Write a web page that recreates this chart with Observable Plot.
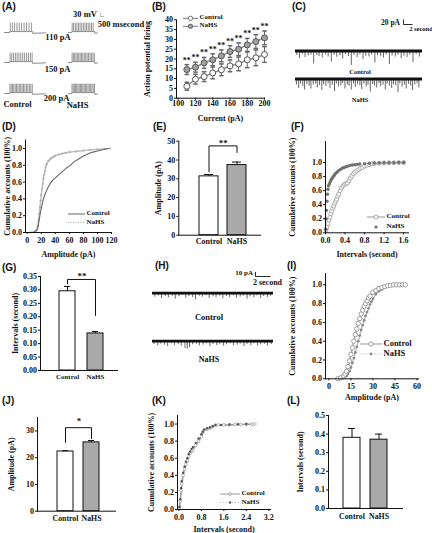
<!DOCTYPE html>
<html><head><meta charset="utf-8">
<script src="https://cdn.jsdelivr.net/npm/d3@7"></script>
<script src="https://cdn.jsdelivr.net/npm/@observablehq/plot@0.6"></script>
<style>
html,body{margin:0;padding:0;background:#fff;}
#root{position:relative;width:432px;height:533px;overflow:hidden;font-family:"Liberation Serif",serif;font-weight:bold;color:#111;}
.lbl{position:absolute;white-space:nowrap;line-height:1;}
svg{overflow:visible;}
</style></head><body><div id="root"></div><script>
// ================= DATA =================
const groups = ["Control", "NaHS"];
// (A) spike times (ms) during a 500 ms current step
const stepCurrents = [110, 150, 200];
const spikesControl110 = [15, 60, 110, 160, 210, 262, 315, 368, 422, 478];
const spikesNaHS110 = [10, 42, 78, 112, 148, 182, 218, 252, 288, 322, 358, 394, 430, 466];
const spikesControl150 = [12, 48, 88, 126, 165, 205, 245, 286, 327, 368, 410, 452, 490];
const spikesNaHS150 = [8, 35, 64, 93, 122, 152, 182, 212, 242, 273, 304, 335, 366, 398, 430, 462, 492];
const spikesControl200 = [8, 36, 64, 93, 122, 151, 181, 211, 241, 272, 303, 334, 366, 398, 430, 463, 494];
const spikesNaHS200 = [6, 31, 57, 83, 109, 135, 162, 189, 216, 243, 270, 298, 326, 354, 382, 410, 439, 468, 496];
const waveControlT = [-110, 0, 0, 500, 500, 780];
const waveNaHST = [-70, 0, 0, 500, 500, 560];
const waveV = [-65, -65, -56, -56, -73, -69];
const spikePeak = 28;

// (B) firing vs current
const currents = [110, 120, 130, 140, 150, 160, 170, 180, 190, 200];
const firingControl = [6.1, 9.7, 11.0, 12.9, 14.5, 16.5, 17.5, 19.6, 20.6, 22.3];
const firingControlErr = [2.0, 2.5, 2.5, 3.0, 3.0, 3.0, 3.5, 4.0, 4.0, 4.0];
const firingNaHS = [14.6, 15.8, 18.0, 19.6, 21.6, 23.8, 25.0, 27.2, 28.9, 30.8];
const firingNaHSErr = [2.5, 2.5, 2.8, 3.0, 3.0, 3.0, 3.2, 3.3, 3.5, 3.5];
const firingXTicks = [100, 120, 140, 160, 180, 200];
const firingYTicks = [0, 5, 10, 15, 20, 25, 30, 35, 40];

// (C) spontaneous events [time s, amplitude pA]
const cControlEvents = [[0.3,18],[0.9,30],[1.5,14],[2.1,26],[2.8,20],[3.4,16],[4.0,52],[4.7,18],[5.2,22],[5.9,28],[6.6,15],[7.2,24],[7.9,44],[8.5,17],[9.1,25],[9.8,20],[10.4,32],[11.0,14],[11.7,22],[12.3,58],[12.9,18],[13.6,26],[14.2,15],[14.9,34],[15.5,21],[16.2,24],[16.8,16],[17.5,48],[18.1,19],[18.8,23],[19.4,28],[20.0,15],[20.7,54],[21.3,20],[22.0,24],[22.6,17],[23.3,30],[23.9,21],[24.6,26],[25.2,16],[25.9,46],[26.6,14],[27.3,24]];
const cNaHSEvents = [[0.2,24],[0.7,38],[1.1,20],[1.6,30],[2.0,44],[2.5,22],[3.0,28],[3.4,40],[3.9,24],[4.4,20],[4.8,36],[5.3,26],[5.8,46],[6.2,23],[6.7,30],[7.2,19],[7.6,38],[8.1,25],[8.6,50],[9.0,21],[9.5,32],[10.0,27],[10.4,18],[10.9,40],[11.4,24],[11.8,29],[12.3,44],[12.8,20],[13.2,34],[13.7,23],[14.2,28],[14.6,42],[15.1,21],[15.6,32],[16.0,25],[16.5,52],[17.0,22],[17.4,28],[17.9,36],[18.4,19],[18.8,31],[19.3,24],[19.8,44],[20.2,21],[20.7,29],[21.2,38],[21.6,23],[22.1,27],[22.6,54],[23.0,20],[23.5,33],[24.0,25],[24.4,40],[24.9,22],[25.4,28],[25.8,46],[26.3,24],[26.8,19],[27.2,36]];

// (D) cumulative amplitude
const dControlAmp = [8, 12, 15, 17, 19, 21, 23, 25, 28, 31, 34, 37, 40, 44, 48, 52, 56, 60, 64, 68, 72, 76, 80, 85, 90, 95, 100, 105, 110, 115];
const dControlCum = [0.0, 0.01, 0.05, 0.15, 0.25, 0.33, 0.40, 0.45, 0.51, 0.56, 0.60, 0.63, 0.65, 0.68, 0.71, 0.74, 0.77, 0.79, 0.82, 0.85, 0.87, 0.89, 0.91, 0.93, 0.95, 0.96, 0.97, 0.98, 0.99, 1.0];
const dNaHSAmp = [5, 10, 13, 15, 16, 17, 18, 19, 20, 21, 22, 23, 24, 25, 26, 27, 28, 30, 32, 34, 36, 38, 40, 45, 50, 55, 60, 70, 80, 90, 100, 110, 118];
const dNaHSCum = [0.0, 0.01, 0.03, 0.08, 0.15, 0.22, 0.3, 0.38, 0.45, 0.52, 0.58, 0.64, 0.69, 0.73, 0.77, 0.8, 0.82, 0.85, 0.87, 0.885, 0.895, 0.905, 0.915, 0.93, 0.94, 0.95, 0.957, 0.965, 0.975, 0.985, 0.99, 0.995, 1.0];
const dXTicks = [0, 20, 40, 60, 80, 100, 120];
const cdfYTicks = [0, 0.2, 0.4, 0.6, 0.8, 1.0];

// (E) amplitude bars
const eMean = [31.3, 37.3];
const eErr = [1.0, 1.6];
const eYTicks = [0, 10, 20, 30, 40, 50];
const eBracket = [33.7, 47.5, 47.5, 44.0];
const eSig = "**";
const eSigY = 48.8;

// (F) cumulative intervals
const fControlInt = [0.01, 0.03, 0.05, 0.07, 0.09, 0.11, 0.13, 0.15, 0.17, 0.19, 0.21, 0.23, 0.25, 0.27, 0.3, 0.33, 0.36, 0.39, 0.42, 0.45, 0.48, 0.51, 0.54, 0.57, 0.6, 0.64, 0.68, 0.72, 0.76, 0.8, 0.85, 0.9, 0.95, 1.0, 1.1, 1.2, 1.3, 1.4, 1.5, 1.6];
const fControlCum = [0.04, 0.08, 0.13, 0.18, 0.22, 0.27, 0.31, 0.35, 0.38, 0.42, 0.45, 0.48, 0.52, 0.55, 0.6, 0.64, 0.67, 0.69, 0.7, 0.71, 0.74, 0.78, 0.81, 0.84, 0.86, 0.88, 0.9, 0.92, 0.93, 0.95, 0.96, 0.97, 0.98, 0.985, 0.99, 0.995, 0.997, 0.998, 0.999, 1.0];
const fNaHSInt = [0.005, 0.01, 0.02, 0.03, 0.04, 0.05, 0.06, 0.08, 0.1, 0.12, 0.14, 0.16, 0.18, 0.2, 0.23, 0.26, 0.3, 0.34, 0.38, 0.42, 0.46, 0.5, 0.55, 0.6, 0.65, 0.7, 0.8, 0.9, 1.0, 1.1, 1.2, 1.3, 1.4, 1.5, 1.6];
const fNaHSCum = [0.05, 0.2, 0.32, 0.45, 0.55, 0.62, 0.67, 0.7, 0.73, 0.76, 0.78, 0.8, 0.82, 0.84, 0.86, 0.88, 0.9, 0.92, 0.93, 0.94, 0.95, 0.96, 0.965, 0.97, 0.975, 0.98, 0.985, 0.99, 0.993, 0.995, 0.997, 0.998, 0.999, 1.0, 1.0];
const fXTicks = [0, 0.4, 0.8, 1.2, 1.6];

// (G) interval bars
const gMean = [0.295, 0.138];
const gErr = [0.018, 0.007];
const gYTicks = [0, 0.05, 0.10, 0.15, 0.20, 0.25, 0.30, 0.35];
const gBracket = [0.323, 0.339, 0.339, 0.205];
const gSig = "**";
const gSigY = 0.350;

// (H) miniature events [time s, amplitude pA]
const hControlEvents = [[0.3,12],[0.8,8],[1.2,16],[1.7,10],[2.1,14],[2.6,9],[3.0,18],[3.5,11],[3.9,7],[4.4,15],[4.8,10],[5.3,13],[5.7,20],[6.2,9],[6.6,12],[7.1,8],[7.5,16],[8.0,11],[8.4,14],[8.9,9],[9.3,17],[9.8,10],[10.2,13],[10.7,8],[11.1,15],[11.6,12],[12.0,9],[12.5,18],[12.9,11],[13.4,14],[13.8,8],[14.3,16],[14.7,10],[15.2,13],[15.6,9]];
const hNaHSEvents = [[0.2,10],[0.7,14],[1.1,9],[1.6,12],[2.0,16],[2.5,8],[2.9,13],[3.4,10],[3.8,15],[4.3,22],[4.6,24],[4.9,20],[5.3,11],[5.8,9],[6.2,14],[6.7,12],[7.1,8],[7.6,17],[8.0,10],[8.5,13],[8.9,9],[9.4,15],[9.8,11],[10.3,8],[10.7,14],[11.2,12],[11.6,9],[12.1,16],[12.5,10],[13.0,13],[13.4,8],[13.9,15],[14.3,11],[14.8,9],[15.2,14],[15.7,10]];

// (I) cumulative amplitude
const iControlAmp = [6, 8, 10, 11, 12, 13, 14, 15, 16, 17, 18, 19, 20, 21, 22, 23, 24, 25, 26, 27, 28, 30, 32, 34, 36, 38, 40, 42, 44, 46, 48, 50, 52];
const iControlCum = [0.0, 0.01, 0.03, 0.05, 0.08, 0.13, 0.19, 0.26, 0.33, 0.4, 0.47, 0.53, 0.59, 0.64, 0.69, 0.73, 0.77, 0.8, 0.83, 0.86, 0.88, 0.92, 0.94, 0.96, 0.97, 0.98, 0.99, 0.995, 1.0, 1.0, 1.0, 1.0, 1.0];
const iNaHSAmp = [8, 10, 12, 13, 14, 15, 16, 17, 18, 19, 20, 21, 22, 23, 24, 25, 26, 27, 28, 29, 30, 32, 34, 36, 38, 40, 42, 44, 46, 48, 50, 52];
const iNaHSCum = [0.0, 0.01, 0.03, 0.05, 0.08, 0.12, 0.17, 0.22, 0.28, 0.34, 0.4, 0.46, 0.52, 0.57, 0.62, 0.67, 0.71, 0.75, 0.79, 0.82, 0.85, 0.9, 0.93, 0.95, 0.97, 0.98, 0.99, 0.995, 1.0, 1.0, 1.0, 1.0];
const iXTicks = [0, 15, 30, 45, 60];

// (J) amplitude bars
const jMean = [22.3, 25.7];
const jErr = [0.3, 0.7];
const jYTicks = [0, 10, 20, 30];
const jBracket = [25.7, 31.2, 31.2, 27.1];
const jSig = "*";
const jSigY = 33.6;

// (K) cumulative intervals
const kControlInt = [0.02, 0.05, 0.08, 0.1, 0.15, 0.2, 0.25, 0.3, 0.35, 0.4, 0.45, 0.5, 0.6, 0.7, 0.8, 0.85, 0.9, 1.0, 1.1, 1.2, 1.3, 1.4, 1.6, 1.8, 2.0, 2.2, 2.4, 2.6, 2.7];
const kControlCum = [0.02, 0.1, 0.22, 0.3, 0.4, 0.47, 0.53, 0.57, 0.62, 0.66, 0.68, 0.7, 0.75, 0.8, 0.85, 0.9, 0.93, 0.94, 0.95, 0.97, 0.985, 0.99, 0.99, 0.99, 0.995, 0.995, 0.997, 0.998, 1.0];
const kNaHSInt = [0.02, 0.05, 0.08, 0.1, 0.15, 0.2, 0.25, 0.3, 0.35, 0.4, 0.45, 0.5, 0.6, 0.7, 0.8, 0.85, 0.9, 1.0, 1.1, 1.2, 1.3, 1.5, 1.8, 2.1, 2.4];
const kNaHSCum = [0.03, 0.12, 0.25, 0.33, 0.43, 0.5, 0.56, 0.6, 0.65, 0.68, 0.71, 0.73, 0.78, 0.83, 0.88, 0.91, 0.935, 0.95, 0.96, 0.975, 0.99, 0.99, 0.995, 0.998, 1.0];
const kXTicks = [0, 0.8, 1.6, 2.4, 3.2];

// (L) interval bars
const lMean = [0.38, 0.37];
const lErr = [0.05, 0.03];
const lYTicks = [0, 0.1, 0.2, 0.3, 0.4, 0.5];

// ================= HELPERS =================
const root = document.getElementById("root");
const SERIF = '"Liberation Serif", "Times New Roman", serif';
const SANS = '"Liberation Sans", Arial, sans-serif';
const BAR_FILL = ["#ffffff", "#a9a9a9"];

function put(node, x, y) {
  node.style.position = "absolute";
  node.style.left = x + "px";
  node.style.top = y + "px";
  node.style.maxWidth = "none";
  root.appendChild(node);
  return node;
}
function textAt(str, x, y, size, anchor = "left", family = SERIF) {
  const d = document.createElement("div");
  d.className = "lbl";
  d.textContent = str;
  d.style.fontSize = size + "px";
  d.style.fontFamily = family;
  d.style.left = x + "px";
  d.style.top = (y - size * 0.55) + "px";
  if (anchor === "center") d.style.transform = "translateX(-50%)";
  if (anchor === "right") d.style.transform = "translateX(-100%)";
  root.appendChild(d);
}
const NS = "http://www.w3.org/2000/svg";
const overlay = document.createElementNS(NS, "svg");
overlay.setAttribute("width", 432); overlay.setAttribute("height", 533);
overlay.style.position = "absolute"; overlay.style.left = "0"; overlay.style.top = "0";
function svgEl(tag, attrs) {
  const e = document.createElementNS(NS, tag);
  for (const k in attrs) e.setAttribute(k, attrs[k]);
  overlay.appendChild(e);
  return e;
}
function legend(x, y, gap, size, w, items) {
  items.forEach((it, i) => {
    const cy = y + i * gap;
    if (it.line) svgEl("line", {x1: x, x2: x + w, y1: cy, y2: cy, stroke: it.line.stroke, "stroke-width": 1, "stroke-dasharray": it.line.dash || "none"});
    if (it.marker) svgEl("circle", {cx: x + w / 2, cy, r: it.marker.r, fill: it.marker.fill, stroke: it.marker.stroke || "none", "stroke-width": 0.8});
    textAt(it.text, x + w + 1.5, cy, size);
  });
}
const capSymbol = {draw(ctx, size) { const h = Math.sqrt(size / Math.PI); ctx.moveTo(-h, 0); ctx.lineTo(h, 0); }};
const baseStyle = {fontFamily: SERIF, fontWeight: "bold", fontSize: "8.5px", background: "transparent", color: "#111", overflow: "visible"};
const fmt1 = d3.format(".1f"), fmt2 = d3.format(".2f");

function chart({box: [sx, sy, sw, sh], frame: [fx0, fy0, fx1, fy1], x, y, color, xAxis, yAxis, marks}) {
  const p = Plot.plot({
    width: sw, height: sh,
    marginLeft: fx0 - sx, marginRight: sx + sw - fx1, marginTop: fy0 - sy, marginBottom: sy + sh - fy1,
    x, y, color,
    style: baseStyle,
    marks: [
      ...marks,
      Plot.frame({anchor: "left", stroke: "#111"}),
      Plot.frame({anchor: "bottom", stroke: "#111"}),
      Plot.axisX({fontSize: 8, labelArrow: "none", labelAnchor: "center", ...xAxis}),
      Plot.axisY({fontSize: 8, labelArrow: "none", labelAnchor: "center", ...yAxis})
    ]
  });
  put(p, sx, sy);
}
const zip = (xs, ys, g) => xs.map((v, i) => ({x: v, y: ys[i], group: g}));

function barChart({box, frame, band, mean, err, yDomain, yTicks, yFormat, yLabel, labelOffset, tickPad, tickFont, bracket, sig, sigY}) {
  const data = groups.map((g, i) => ({cond: g, mean: mean[i], top: mean[i] + err[i]}));
  const marks = [
    Plot.barY(data, {x: "cond", y: "mean", fill: "cond", stroke: "#111", strokeWidth: 1}),
    Plot.ruleX(data, {x: "cond", y1: "mean", y2: "top", stroke: "#111"}),
    Plot.tickY(data, {x: "cond", y: "top", stroke: "#111", inset: 5})
  ];
  if (bracket) {
    const step = d3.scaleBand(groups, [frame[0], frame[2]]).paddingInner(band.paddingInner).paddingOuter(band.paddingOuter).align(band.align).step();
    const bdata = [groups[0], groups[0], groups[1], groups[1]].map((g, i) => ({cond: g, v: bracket[i]}));
    marks.push(Plot.line(bdata, {x: "cond", y: "v", stroke: "#111", strokeWidth: 1}));
    marks.push(Plot.text([sig], {x: () => groups[0], y: () => sigY, text: d => d, dx: step / 2, fontSize: 9}));
  }
  chart({box, frame,
    x: {type: "band", domain: groups, ...band},
    y: {domain: yDomain},
    color: {domain: groups, range: BAR_FILL},
    xAxis: {tickSize: 0, tickPadding: tickPad, fontSize: tickFont, label: null},
    yAxis: {ticks: yTicks, tickFormat: yFormat, tickSize: 2, tickPadding: 1.5, label: yLabel, labelOffset},
    marks});
}

function trace({left, top, width, height, xDomain, yDomain, marks}) {
  const p = Plot.plot({width, height, margin: 0, x: {domain: xDomain, axis: null}, y: {domain: yDomain, axis: null}, style: baseStyle, marks});
  put(p, left, top);
}

// ================= (A) =================
const waveControl = waveControlT.map((t, i) => ({t, v: waveV[i]}));
const waveNaHS = waveNaHST.map((t, i) => ({t, v: waveV[i]}));
const aRows = [
  {base: 32, c: spikesControl110, n: spikesNaHS110},
  {base: 62, c: spikesControl150, n: spikesNaHS150},
  {base: 93, c: spikesControl200, n: spikesNaHS200}
];
aRows.forEach(row => {
  [[row.c, waveControl, 4, 41], [row.n, waveNaHS, 68, 29]].forEach(([spk, wave, left, width]) => {
    trace({left, top: row.base - 10, width, height: 11,
      xDomain: d3.extent(wave, d => d.t), yDomain: [-75, 35],
      marks: [
        Plot.line(wave, {x: "t", y: "v", stroke: "#8a8a8a", strokeWidth: 1}),
        Plot.ruleX(spk, {x: d => d, y1: () => waveV[2], y2: () => spikePeak, stroke: "#8a8a8a", strokeWidth: 0.9})
      ]});
  });
});
textAt("110 pA", 58, 37.5, 8.5, "center");
textAt("150 pA", 57.5, 69.5, 8.5, "center");
textAt("200 pA", 56.5, 98.5, 8.5, "center");
textAt("Control", 17.5, 104.5, 8.5, "center");
textAt("NaHS", 77.5, 105.5, 8.5, "center");
textAt("30 mV", 85, 15, 8.5, "center");
textAt("500 msecond", 121, 24.5, 8.5, "center");
svgEl("path", {d: "M100.5,13 V16.5 H104", fill: "none", stroke: "#aaa", "stroke-width": 0.8});

// ================= (B) =================
const firing = [
  ...currents.map((c, i) => ({current: c, group: "Control", mean: firingControl[i], err: firingControlErr[i]})),
  ...currents.map((c, i) => ({current: c, group: "NaHS", mean: firingNaHS[i], err: firingNaHSErr[i]}))
];
chart({box: [140, 0, 134, 128], frame: [176, 19.3, 264, 97.7],
  x: {domain: [98, 200]}, y: {domain: [0, 40]},
  color: {domain: groups, range: ["#ffffff", "#a0a0a0"]},
  xAxis: {ticks: firingXTicks, tickSize: 2, tickPadding: 0.5, label: "Current (pA)", labelOffset: 22.7},
  yAxis: {ticks: firingYTicks, tickSize: 2, tickPadding: 1.5, label: "Action potential firing", labelOffset: 32.4},
  marks: [
    Plot.ruleX(firing, {x: "current", y1: d => d.mean - d.err, y2: d => d.mean + d.err, stroke: "#666"}),
    Plot.dot(firing, {x: "current", y: d => d.mean + d.err, symbol: capSymbol, r: 2.3, fill: "none", stroke: "#666"}),
    Plot.dot(firing, {x: "current", y: d => d.mean - d.err, symbol: capSymbol, r: 2.3, fill: "none", stroke: "#666"}),
    Plot.line(firing, {x: "current", y: "mean", z: "group", stroke: "#888"}),
    Plot.dot(firing, {x: "current", y: "mean", fill: "group", stroke: "#555", r: 3, strokeWidth: 1}),
    Plot.text(firing.filter(d => d.group === "NaHS"), {x: "current", y: d => d.mean + d.err, text: () => "**", dy: -4.5, fontSize: 8})
  ]});
legend(183, 18.3, 8, 7, 15, [
  {text: "Control", line: {stroke: "#777"}, marker: {r: 2.2, fill: "#fff", stroke: "#555"}},
  {text: "NaHS", line: {stroke: "#777"}, marker: {r: 2.2, fill: "#a0a0a0", stroke: "#555"}}
]);

// ================= (C) =================
[[cControlEvents, 50], [cNaHSEvents, 78]].forEach(([ev, base]) => {
  trace({left: 295, top: base - 2.5, width: 127, height: 20, xDomain: [0, 28], yDomain: [-70, 10],
    marks: [
      Plot.ruleX(ev, {x: d => d[0], y1: () => 0, y2: d => -d[1], stroke: "#555", strokeWidth: 0.9}),
      Plot.ruleY([0], {stroke: "#111", strokeWidth: 3.2})
    ]});
});
textAt("20 pA", 400, 23.5, 7.5, "right");
textAt("2 second", 421, 29.5, 6.5, "center");
textAt("Control", 360, 72.5, 6.5, "center");
textAt("NaHS", 360, 100.5, 6.5, "center");
svgEl("path", {d: "M403.5,19.5 V24.5 H412.5", fill: "none", stroke: "#111", "stroke-width": 0.9});

// ================= (D) =================
chart({box: [0, 128, 125, 135], frame: [25, 139.6, 111, 232],
  x: {domain: [-2.5, 120]}, y: {domain: [0, 1.1]},
  xAxis: {ticks: dXTicks, tickSize: 2, tickPadding: 2.5, label: "Amplitude (pA)", labelOffset: 24.4},
  yAxis: {ticks: cdfYTicks, tickFormat: fmt1, tickSize: 2, tickPadding: 1.5, label: "Cumulative accounts (100%)", labelOffset: 21.4},
  marks: [
    Plot.line(zip(dNaHSAmp, dNaHSCum), {x: "x", y: "y", stroke: "#bbb", strokeDasharray: "1,1.2"}),
    Plot.dot(zip(dNaHSAmp, dNaHSCum), {x: "x", y: "y", r: 1, fill: "#aaa"}),
    Plot.line(zip(dControlAmp, dControlCum), {x: "x", y: "y", stroke: "#666", strokeWidth: 1.1})
  ]});
legend(68, 214, 8.5, 7, 17, [
  {text: "Control", line: {stroke: "#666"}},
  {text: "NaHS", line: {stroke: "#aaa", dash: "1,1.5"}}
]);

// ================= (E) =================
barChart({box: [145, 128, 130, 135], frame: [178.3, 140.7, 260, 234.7],
  band: {paddingInner: 0.33, paddingOuter: 0.6, align: 0.58},
  mean: eMean, err: eErr, yDomain: [0, 50], yTicks: eYTicks, yFormat: d3.format("d"),
  yLabel: "Amplitude (pA)", labelOffset: 23.7, tickPad: 3, tickFont: 8, bracket: eBracket, sig: eSig, sigY: eSigY});

// ================= (F) =================
chart({box: [285, 128, 147, 135], frame: [325, 141, 408, 232.3],
  x: {domain: [0, 1.7]}, y: {domain: [0, 1.3]},
  xAxis: {ticks: fXTicks, tickFormat: fmt1, tickSize: 2, tickPadding: 2.5, label: "Intervals (second)", labelOffset: 24.1},
  yAxis: {ticks: cdfYTicks, tickFormat: fmt1, tickSize: 2, tickPadding: 1.5, label: "Cumulative accounts (100%)", labelOffset: 36.4},
  marks: [
    Plot.line(zip(fControlInt, fControlCum), {x: "x", y: "y", stroke: "#aaa"}),
    Plot.dot(zip(fControlInt, fControlCum), {x: "x", y: "y", r: 2, fill: "#fff", stroke: "#999", strokeWidth: 0.8}),
    Plot.dot(zip(fNaHSInt, fNaHSCum), {x: "x", y: "y", r: 1.7, fill: "#707070"})
  ]});
legend(367, 217, 10, 7, 18, [
  {text: "Control", line: {stroke: "#999"}, marker: {r: 2, fill: "#fff", stroke: "#999"}},
  {text: "NaHS", marker: {r: 1.6, fill: "#707070"}}
]);

// ================= (G) =================
barChart({box: [0, 262, 140, 133], frame: [40, 276, 117, 370],
  band: {paddingInner: 0.414, paddingOuter: 0.535, align: 0.58},
  mean: gMean, err: gErr, yDomain: [0, 0.35], yTicks: gYTicks, yFormat: fmt2,
  yLabel: "Intervals (second)", labelOffset: 28.4, tickPad: 4, tickFont: 7, bracket: gBracket, sig: gSig, sigY: gSigY});

// ================= (H) =================
[[hControlEvents, 293], [hNaHSEvents, 341]].forEach(([ev, base]) => {
  trace({left: 152, top: base - 1.7, width: 121, height: 10, xDomain: [0, 16], yDomain: [-25, 5],
    marks: [
      Plot.ruleX(ev, {x: d => d[0], y1: () => 0, y2: d => -d[1], stroke: "#555", strokeWidth: 0.9}),
      Plot.ruleY([0], {stroke: "#111", strokeWidth: 2.8})
    ]});
});
textAt("10 pA", 253, 274, 7, "right");
textAt("2 second", 267.5, 283.5, 8, "center");
textAt("Control", 209, 317.5, 8.5, "center");
textAt("NaHS", 209, 360.5, 8, "center");
svgEl("path", {d: "M255.5,272 V276.5 H270.5", fill: "none", stroke: "#111", "stroke-width": 0.9});

// ================= (I) =================
chart({box: [285, 262, 147, 140], frame: [325, 273, 418, 378.3],
  x: {domain: [-2.3, 61]}, y: {domain: [0, 1.12]},
  xAxis: {ticks: iXTicks, tickSize: 2, tickPadding: 2.5, label: "Amplitude (pA)", labelOffset: 21.1},
  yAxis: {ticks: cdfYTicks, tickFormat: fmt1, tickSize: 2, tickPadding: 1.5, label: "Cumulative accounts (100%)", labelOffset: 36.4},
  marks: [
    Plot.line(zip(iNaHSAmp, iNaHSCum), {x: "x", y: "y", stroke: "#bbb", strokeDasharray: "1,1.2"}),
    Plot.dot(zip(iNaHSAmp, iNaHSCum), {x: "x", y: "y", r: 1.4, fill: "#8a8a8a"}),
    Plot.line(zip(iControlAmp, iControlCum), {x: "x", y: "y", stroke: "#aaa"}),
    Plot.dot(zip(iControlAmp, iControlCum), {x: "x", y: "y", r: 2.2, fill: "#fff", stroke: "#888", strokeWidth: 0.8})
  ]});
legend(360, 344, 10, 8.5, 22, [
  {text: "Control", line: {stroke: "#999"}, marker: {r: 2.2, fill: "#fff", stroke: "#888"}},
  {text: "NaHS", line: {stroke: "#bbb", dash: "1,1.5"}, marker: {r: 1.4, fill: "#8a8a8a"}}
]);

// ================= (J) =================
barChart({box: [0, 395, 140, 138], frame: [37, 417, 115, 510.7],
  band: {paddingInner: 0.37, paddingOuter: 0.63, align: 0.56},
  mean: jMean, err: jErr, yDomain: [0, 35], yTicks: jYTicks, yFormat: d3.format("d"),
  yLabel: "Amplitude (pA)", labelOffset: 28.7, tickPad: 4, tickFont: 7.8, bracket: jBracket, sig: jSig, sigY: jSigY});

// ================= (K) =================
chart({box: [145, 395, 140, 138], frame: [177, 415, 270, 509],
  x: {domain: [-0.05, 3.26]}, y: {domain: [0, 1.1]},
  xAxis: {ticks: kXTicks, tickFormat: fmt1, tickSize: 2, tickPadding: 2.5, label: "Intervals (second)", labelOffset: 22.6},
  yAxis: {ticks: cdfYTicks, tickFormat: fmt1, tickSize: 2, tickPadding: 1.5, label: "Cumulative accounts (100%)", labelOffset: 28.7},
  marks: [
    Plot.line(zip(kControlInt, kControlCum), {x: "x", y: "y", stroke: "#999"}),
    Plot.dot(zip(kControlInt, kControlCum), {x: "x", y: "y", r: 1.4, fill: "#fff", stroke: "#999", strokeWidth: 0.7}),
    Plot.dot(zip(kNaHSInt, kNaHSCum), {x: "x", y: "y", r: 1.2, fill: "#555"})
  ]});
legend(220, 494, 8.5, 7, 20, [
  {text: "Control", line: {stroke: "#999"}, marker: {r: 1.4, fill: "#fff", stroke: "#999"}},
  {text: "NaHS", line: {stroke: "#bbb", dash: "1,2"}, marker: {r: 1.2, fill: "#555"}}
]);

// ================= (L) =================
barChart({box: [285, 395, 147, 138], frame: [328, 415, 402, 508],
  band: {paddingInner: 0.357, paddingOuter: 0.5, align: 0.5},
  mean: lMean, err: lErr, yDomain: [0, 0.5], yTicks: lYTicks, yFormat: fmt1,
  yLabel: "Intervals (second)", labelOffset: 31.4, tickPad: 4.5, tickFont: 7.8});

// ================= panel letters =================
[["(A)", 2, 7], ["(B)", 152, 7], ["(C)", 292, 7], ["(D)", 2, 127], ["(E)", 153, 127], ["(F)", 291, 127],
 ["(G)", 2, 268], ["(H)", 155, 266.5], ["(I)", 287, 266.5], ["(J)", 2, 401.5], ["(K)", 152, 401.5], ["(L)", 287, 401.5]]
  .forEach(([t, x, y]) => textAt(t, x, y, 10, "left", SANS));

root.appendChild(overlay);
</script></body></html>
